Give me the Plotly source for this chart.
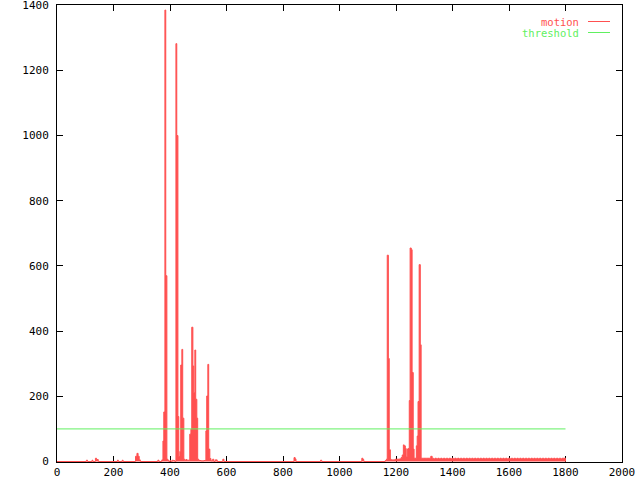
import plotly.graph_objects as go

# Motion series: segment start frame and value (step plot)
motion_x = [0, 104, 108, 124, 127, 136, 140, 146, 214, 217, 231, 234, 278, 283, 287, 291, 295,
            357, 361, 371, 375, 378, 382, 385, 389, 392, 396, 400, 404, 408, 412, 417,
            421, 424, 428, 431, 435, 438, 442, 445, 449, 452, 456, 460,
            470, 474, 477, 481, 484, 488, 491, 495, 498, 502, 510, 520,
            527, 530, 534, 537, 541, 545, 551, 555, 560, 567, 587, 591,
            839, 843, 846, 933, 937, 1079, 1083, 1086,
            1162, 1166, 1169, 1173, 1176, 1180, 1183, 1197, 1213, 1218, 1222,
            1226, 1229, 1233, 1236, 1240, 1243, 1247, 1250, 1254, 1257, 1261, 1264,
            1272, 1275, 1278, 1282, 1286, 1289]
motion_y = [0, 4, 0, 4, 0, 10, 6, 0, 4, 0, 4, 0, 16, 25, 16, 5, 0,
            4, 0, 5, 63, 152, 1385, 570, 7, 4, 0, 3, 0, 4, 3, 0,
            1282, 1000, 138, 15, 31, 296, 344, 133, 7, 3, 6, 4,
            84, 99, 412, 293, 211, 342, 191, 133, 7, 3, 2, 3,
            94, 201, 298, 38, 9, 2, 7, 0, 5, 0, 7, 0,
            12, 8, 0, 4, 0, 10, 6, 0,
            3, 7, 633, 316, 36, 7, 5, 7, 8, 12, 20,
            51, 48, 40, 14, 38, 40, 187, 655, 650, 273, 38, 10,
            48, 78, 184, 604, 358, 10]

# Tail of the motion series (frames 1293..1798, every 5 frames)
tail_start = 1293
tail_step = 5
tail_y = [10, 10, 10, 10, 10, 10, 16, 10, 8, 10, 8, 10, 8, 10, 8, 10, 8, 10, 8, 10,
          8, 10, 8, 10, 8, 10, 8, 10, 8, 10, 8, 10, 8, 10, 8, 10, 8, 10, 8, 10,
          8, 10, 8, 10, 8, 10, 8, 10, 8, 10, 8, 10, 8, 10, 8, 10, 8, 10, 8, 10,
          8, 10, 8, 10, 8, 10, 8, 10, 8, 10, 8, 10, 8, 10, 8, 10, 8, 10, 8, 10,
          8, 10, 8, 10, 8, 10, 8, 10, 8, 10, 8, 10, 8, 10, 8, 10, 8, 10, 8, 10, 10, 10]
end_frame = 1800

threshold_x = [0, 1800]
threshold_y = [100, 100]

x_ticks = [0, 200, 400, 600, 800, 1000, 1200, 1400, 1600, 1800, 2000]
y_ticks = [0, 200, 400, 600, 800, 1000, 1200, 1400]

xs = list(motion_x) + [tail_start + i * tail_step for i in range(len(tail_y))] + [end_frame]
ys = list(motion_y) + list(tail_y) + [0]

RED = "#ff5050"
GREEN = "#60f060"
FONT = "DejaVu Sans Mono"

fig = go.Figure()
fig.add_trace(go.Scatter(x=xs, y=ys, mode="lines", line=dict(color=RED, width=1, shape="hv"),
                         fill="tozeroy", fillcolor=RED, name="motion", showlegend=False))
fig.add_trace(go.Scatter(x=threshold_x, y=threshold_y, mode="lines",
                         line=dict(color=GREEN, width=1), name="threshold", showlegend=False))

L, R, T, B = 57, 18, 5, 18
pw = 640 - L - R
ph = 480 - T - B

def px(x):
    return (x - L) / pw

def py(y):
    return (480 - B - y) / ph

fig.add_annotation(x=px(581), y=py(21.5), xref="paper", yref="paper", text="motion",
                   showarrow=False, xanchor="right", yanchor="middle",
                   font=dict(family=FONT, size=10.5, color=RED))
fig.add_annotation(x=px(581), y=py(33), xref="paper", yref="paper", text="threshold",
                   showarrow=False, xanchor="right", yanchor="middle",
                   font=dict(family=FONT, size=10.5, color=GREEN))
fig.add_shape(type="line", xref="paper", yref="paper", x0=px(588), x1=px(610), y0=py(21.5), y1=py(21.5),
              line=dict(color=RED, width=1))
fig.add_shape(type="line", xref="paper", yref="paper", x0=px(588), x1=px(610), y0=py(32.5), y1=py(32.5),
              line=dict(color=GREEN, width=1))

axis_common = dict(showgrid=False, zeroline=False, showline=True, linecolor="black", linewidth=1,
                   mirror="ticks", ticks="inside", ticklen=6, tickcolor="black", tickwidth=1,
                   tickfont=dict(family=FONT, size=11, color="black"), layer="below traces",
                   automargin=False, ticklabeloverflow="allow")

fig.update_layout(
    width=640, height=480,
    margin=dict(l=L, r=R, t=T, b=B),
    paper_bgcolor="white", plot_bgcolor="white",
    xaxis=dict(range=[0, 2000], tickvals=x_ticks, ticktext=[str(v) for v in x_ticks], **axis_common),
    yaxis=dict(range=[-1.5, 1400.5], tickvals=y_ticks, ticktext=[str(v) for v in y_ticks],
               ticklabelstandoff=5, **axis_common),
    showlegend=False,
)

fig.write_html("out.html", config={"displayModeBar": False},
               post_script="document.body.style.margin='0';")
